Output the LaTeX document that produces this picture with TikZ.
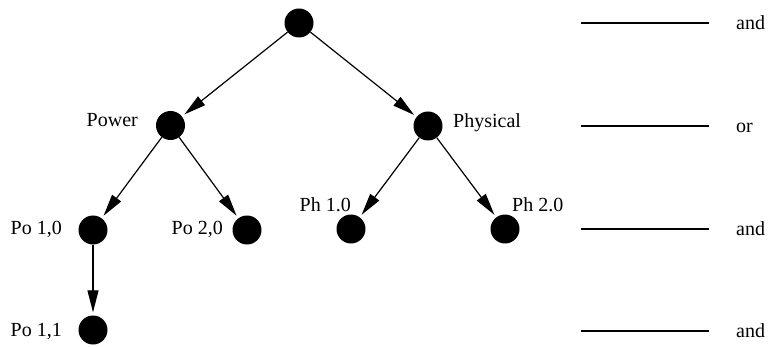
\documentclass[tikz,border=0pt]{standalone}
\usepackage{fontspec}
\setmainfont{Liberation Serif}
\usepackage{tikz}
\usetikzlibrary{positioning, arrows.meta}
\definecolor{gtBlack}{RGB}{0, 0, 0}
\tikzset{
    base/.style={
        font=\fontsize{20}{24}\selectfont,
        text=gtBlack,
        inner sep=0pt
    },
    goal/.style={
        circle,
        fill=gtBlack,
        inner sep=0pt,
        minimum size=29pt
    },
    tag/.style={
        base
    },
    refine/.style={
        -{Triangle[length=22pt,width=11pt]},
        line width=1.2pt,
        color=gtBlack,
        shorten >=3pt
    },
    level/.style={
        line width=2.6pt,
        color=gtBlack
    }
}

\begin{document}
\begin{tikzpicture}[x=1pt,y=-1pt]
  \useasboundingbox (0,0) rectangle (770,347);

  % tree
  \node[goal] (root) at (299,23) {};
  \node[goal] (pow) at (170.5,125.5) {};
  \node[goal] (phy) at (428,126) {};
  \node[goal] (po10) at (93,230) {};
  \node[goal] (po20) at (247,230) {};
  \node[goal] (ph10) at (351,229) {};
  \node[goal] (ph20) at (505,229) {};
  \node[goal] (po11) at (93,330) {};

  \node[tag,anchor=base east] (tpow) at (138,127) {Power};
  \node[tag,anchor=base west] (tphy) at (453,127.7) {Physical};
  \node[tag,anchor=base east] (tpo10) at (62,235) {Po 1,0};
  \node[tag,anchor=base east] (tpo20) at (223,235) {Po 2,0};
  \node[tag,anchor=base east] (tph10) at (351,212) {Ph 1.0};
  \node[tag,anchor=base west] (tph20) at (512,212) {Ph 2.0};
  \node[tag,anchor=base east] (tpo11) at (62,336) {Po 1,1};

  \draw[refine] (root) -- (pow);
  \draw[refine] (root) -- (phy);
  \draw[refine] (pow) -- (po10);
  \draw[refine] (pow) -- (po20);
  \draw[refine] (phy) -- (ph10);
  \draw[refine] (phy) -- (ph20);
  \draw[refine] (po10) -- (po11);

  % levels
  \foreach \y/\op [count=\i] in {23/and, 126/or, 229/and, 331/and} {
    \coordinate (ls\i) at (581,\y);
    \coordinate (le\i) at (709,\y);
    \draw[level] (ls\i) -- (le\i);
    \node[tag,anchor=base west] (op\i) at (736,\y+6.5) {\op};
  }
\end{tikzpicture}
\end{document}
